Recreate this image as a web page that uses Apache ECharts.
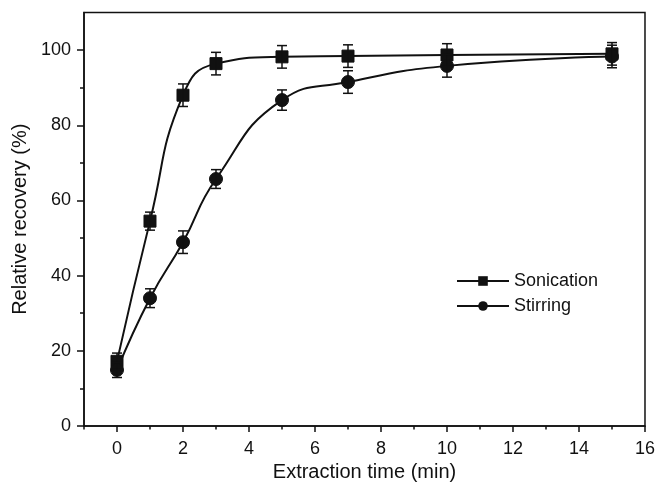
<!DOCTYPE html>
<html>
<head>
<meta charset="utf-8">
<script src="https://cdn.jsdelivr.net/npm/echarts@6/dist/echarts.min.js"></script>
<style>html,body{margin:0;padding:0;background:#fff;}#chart{width:658px;height:490px;}</style>
</head>
<body>
<div id="chart"></div>
<script>
const times = [0, 1, 2, 3, 5, 7, 10, 15];
const sonication = [17.2, 54.5, 88.0, 96.4, 98.2, 98.4, 98.7, 99.0];
const stirring = [14.9, 34.0, 48.9, 65.7, 86.7, 91.5, 95.8, 98.3];
const sonicationErr = [2.2, 2.4, 3.0, 3.0, 3.0, 3.0, 3.0, 3.0];
const stirringErr = [2.0, 2.5, 3.0, 2.5, 2.7, 3.0, 3.0, 3.0];
const xMajorTicks = [0, 2, 4, 6, 8, 10, 12, 14, 16];
const xMinorTicks = [-1, 1, 3, 5, 7, 9, 11, 13, 15];
const yMajorTicks = [0, 20, 40, 60, 80, 100];
const yMinorTicks = [10, 30, 50, 70, 90];

const FONT = '"Liberation Sans", Arial, Helvetica, sans-serif';
const INK = '#111';

function pairs(ys) { return times.map((t, i) => [t, ys[i]]); }
function errData(ys, es) { return times.map((t, i) => [t, ys[i] - es[i], ys[i] + es[i]]); }
function renderErr(params, api) {
  const x = api.value(0);
  const lo = api.coord([x, api.value(1)]);
  const hi = api.coord([x, api.value(2)]);
  const w = 5;
  const style = { stroke: INK, lineWidth: 1.5 };
  return {
    type: 'group',
    children: [
      { type: 'line', shape: { x1: lo[0], y1: lo[1], x2: hi[0], y2: hi[1] }, style },
      { type: 'line', shape: { x1: lo[0] - w, y1: lo[1], x2: lo[0] + w, y2: lo[1] }, style },
      { type: 'line', shape: { x1: hi[0] - w, y1: hi[1], x2: hi[0] + w, y2: hi[1] }, style }
    ]
  };
}

const chart = echarts.init(document.getElementById('chart'), null, { renderer: 'canvas' });
chart.setOption({
  animation: false,
  backgroundColor: '#fff',
  textStyle: { fontFamily: FONT, color: INK },
  grid: { left: 84, right: 11, top: 12.5, bottom: 64, show: true, borderColor: INK, borderWidth: 1.5, backgroundColor: 'transparent' },
  legend: {
    data: ['Sonication', 'Stirring'],
    orient: 'vertical',
    left: 451, top: 267,
    itemWidth: 52, itemHeight: 12, itemGap: 7,
    textStyle: { fontFamily: FONT, fontSize: 18, color: INK }
  },
  xAxis: [{
    type: 'value', min: -1, max: 16,
    name: 'Extraction time (min)', nameLocation: 'middle', nameGap: 33,
    nameTextStyle: { fontFamily: FONT, fontSize: 20, color: INK },
    axisLine: { show: true, onZero: false, lineStyle: { color: INK, width: 1.5 } },
    axisTick: { show: true, inside: false, length: 6, customValues: xMajorTicks, lineStyle: { color: INK, width: 1.5 } },
    axisLabel: { customValues: xMajorTicks, fontFamily: FONT, fontSize: 18, color: INK, margin: 14 },
    splitLine: { show: false }
  }, {
    type: 'value', min: -1, max: 16, position: 'bottom',
    axisLine: { show: false, onZero: false },
    axisTick: { show: true, inside: false, length: 3.5, customValues: xMinorTicks, lineStyle: { color: INK, width: 1.5 } },
    axisLabel: { show: false },
    splitLine: { show: false }
  }],
  yAxis: [{
    type: 'value', min: 0, max: 110,
    name: 'Relative recovery (%)', nameLocation: 'middle', nameGap: 42,
    nameTextStyle: { fontFamily: FONT, fontSize: 20, color: INK },
    axisLine: { show: true, onZero: false, lineStyle: { color: INK, width: 1.5 } },
    axisTick: { show: true, inside: false, length: 7, customValues: yMajorTicks, lineStyle: { color: INK, width: 1.5 } },
    axisLabel: { customValues: yMajorTicks, fontFamily: FONT, fontSize: 18, color: INK, margin: 13 },
    splitLine: { show: false }
  }, {
    type: 'value', min: 0, max: 110, position: 'left',
    axisLine: { show: false, onZero: false },
    axisTick: { show: true, inside: false, length: 4, customValues: yMinorTicks, lineStyle: { color: INK, width: 1.5 } },
    axisLabel: { show: false },
    splitLine: { show: false }
  }],
  series: [
    {
      name: 'Sonication', type: 'line', data: pairs(sonication),
      smooth: 0.5,
      symbol: 'rect', symbolSize: 12,
      lineStyle: { color: INK, width: 2 },
      itemStyle: { color: INK, borderColor: INK },
      z: 3
    },
    {
      name: 'Stirring', type: 'line', data: pairs(stirring),
      smooth: 0.5,
      symbol: 'circle', symbolSize: 13,
      lineStyle: { color: INK, width: 2 },
      itemStyle: { color: INK, borderColor: INK },
      z: 3
    },
    { type: 'custom', data: errData(sonication, sonicationErr), renderItem: renderErr, z: 4, silent: true },
    { type: 'custom', data: errData(stirring, stirringErr), renderItem: renderErr, z: 4, silent: true }
  ]
});
</script>
</body>
</html>
